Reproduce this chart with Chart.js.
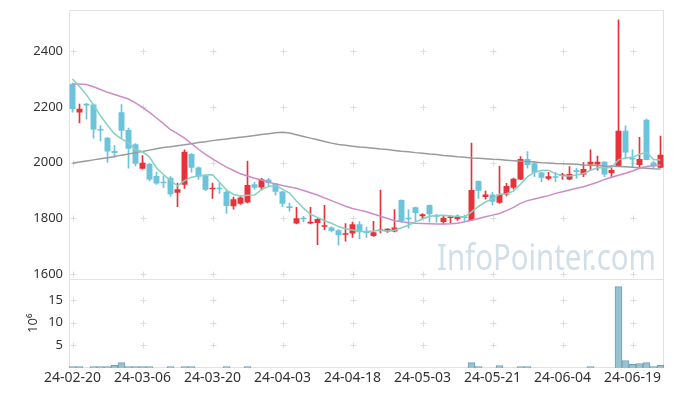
<!DOCTYPE html>
<html>
<head>
<meta charset="utf-8">
<script src="https://cdn.jsdelivr.net/npm/chart.js@4.4.1/dist/chart.umd.min.js"></script>
<style>
  html, body { margin: 0; padding: 0; background: #fff; }
</style>
</head>
<body>
<canvas id="stockChart" width="673" height="396"></canvas>
<script>
const dates = [
  '24-02-20','24-02-21','24-02-22','24-02-23','24-02-26','24-02-27','24-02-28','24-02-29','24-03-04','24-03-05',
  '24-03-06','24-03-07','24-03-08','24-03-11','24-03-12','24-03-13','24-03-14','24-03-15','24-03-18','24-03-19',
  '24-03-20','24-03-21','24-03-22','24-03-25','24-03-26','24-03-27','24-03-28','24-03-29','24-04-01','24-04-02',
  '24-04-03','24-04-04','24-04-05','24-04-08','24-04-09','24-04-11','24-04-12','24-04-15','24-04-16','24-04-17',
  '24-04-18','24-04-19','24-04-22','24-04-23','24-04-24','24-04-25','24-04-26','24-04-29','24-04-30','24-05-02',
  '24-05-03','24-05-07','24-05-08','24-05-09','24-05-10','24-05-13','24-05-14','24-05-16','24-05-17','24-05-20',
  '24-05-21','24-05-22','24-05-23','24-05-24','24-05-27','24-05-28','24-05-29','24-05-30','24-05-31','24-06-03',
  '24-06-04','24-06-05','24-06-07','24-06-10','24-06-11','24-06-12','24-06-13','24-06-14','24-06-17','24-06-18',
  '24-06-19','24-06-20','24-06-21','24-06-24','24-06-25'
];

const openP = [
  2282,2180,2211,2208,2121,2089,2042,2181,2117,2066,
  1978,1995,1952,1932,1946,1892,1921,2031,1983,1953,
  1905,1910,1896,1844,1853,1857,1923,1911,1940,1925,
  1897,1844,1782,1801,1782,1784,1770,1768,1758,1742,
  1746,1779,1753,1737,1755,1753,1753,1866,1801,1840,
  1808,1848,1812,1787,1802,1798,1807,1794,1934,1877,
  1886,1856,1886,1910,1940,2013,1998,1965,1942,1950,
  1952,1940,1973,1958,1993,1993,2003,1962,1988,2114,
  2016,1992,2154,2001,1982
];
const highP = [
  2285,2210,2213,2210,2133,2090,2061,2208,2124,2068,
  2025,1998,1965,1952,1950,1927,2046,2033,1985,1955,
  1927,1926,1902,1877,1880,2006,1930,1944,1944,1926,
  1898,1855,1840,1808,1840,1800,1847,1770,1760,1782,
  1787,1789,1768,1790,1902,1763,1832,1867,1832,1841,
  1818,1849,1815,1810,1810,1812,1812,2070,1935,1898,
  1894,1987,1926,1945,2022,2040,2004,1966,1965,1965,
  1962,1986,1980,2000,2046,2024,2004,1990,2512,2132,
  2046,2091,2156,2004,2095
];
const lowP = [
  2181,2142,2156,2088,2078,2001,2019,2088,1980,1988,
  1977,1935,1922,1910,1880,1842,1908,1966,1940,1900,
  1872,1890,1818,1833,1850,1856,1904,1902,1916,1884,
  1842,1826,1781,1788,1781,1706,1760,1752,1704,1719,
  1732,1727,1732,1736,1748,1750,1752,1787,1765,1789,
  1800,1787,1787,1780,1785,1793,1790,1793,1872,1869,
  1848,1854,1881,1905,1939,1980,1950,1932,1938,1932,
  1940,1938,1944,1950,1973,1973,1950,1950,1986,2014,
  1986,1986,2010,1982,1981
];
const closeP = [
  2192,2193,2205,2119,2115,2040,2035,2114,2050,1996,
  2000,1940,1925,1926,1887,1905,2039,1982,1950,1903,
  1909,1905,1845,1869,1875,1920,1910,1941,1927,1896,
  1853,1838,1801,1797,1788,1798,1776,1755,1740,1747,
  1779,1751,1748,1751,1760,1763,1768,1791,1797,1820,
  1815,1815,1806,1803,1807,1807,1802,1902,1899,1886,
  1860,1886,1916,1942,2013,1992,1965,1946,1951,1946,
  1958,1959,1967,1977,2003,2003,1958,1974,2114,2036,
  2011,2013,2010,1986,2028
];

// moving averages
const ma5 = [
  2300,2273,2243,2207,2168,2134,2103,2085,2071,2047,
  2039,2020,1982,1957,1936,1917,1936,1948,1953,1956,
  1957,1930,1902,1886,1881,1883,1884,1903,1915,1919,
  1905,1891,1863,1837,1815,1804,1792,1783,1771,1763,
  1759,1754,1753,1755,1758,1755,1758,1767,1776,1788,
  1798,1808,1811,1812,1809,1808,1805,1824,1843,1859,
  1870,1887,1889,1898,1923,1950,1966,1972,1973,1960,
  1953,1952,1956,1961,1973,1982,1982,1983,2010,2017,
  2019,2030,2037,2011,2010
];
const ma20 = [
  2282,2282,2280,2272,2262,2252,2244,2236,2228,2214,
  2198,2180,2160,2140,2118,2104,2088,2068,2048,2030,
  2014,1998,1984,1972,1960,1952,1944,1938,1930,1924,
  1918,1913,1908,1900,1892,1884,1874,1864,1854,1844,
  1836,1830,1824,1816,1808,1800,1792,1788,1785,1783,
  1782,1781,1780,1780,1781,1783,1788,1794,1800,1806,
  1812,1818,1828,1840,1854,1864,1870,1876,1882,1890,
  1896,1902,1908,1914,1922,1930,1940,1948,1955,1962,
  1970,1980,1986,1990,1992
];
const ma120 = [
  1998,2002,2006,2010,2014,2018,2022,2027,2031,2036,
  2040,2045,2050,2054,2057,2061,2064,2068,2072,2075,
  2079,2082,2085,2088,2091,2094,2097,2101,2104,2107,
  2109,2106,2100,2094,2088,2082,2076,2070,2065,2062,
  2059,2056,2054,2052,2049,2047,2044,2041,2039,2036,
  2034,2031,2029,2026,2024,2021,2019,2017,2016,2014,
  2012,2011,2009,2007,2005,2004,2002,2000,1999,1997,
  1996,1995,1994,1992,1991,1990,1988,1987,1986,1985,
  1984,1982,1980,1978,1977
];

// volume in millions (null = no visible bar)
const volume = [
  0.3,0.3,null,0.3,0.3,0.3,0.6,1.2,0.3,0.3,
  0.3,0.3,null,null,0.3,null,0.3,0.3,null,null,
  null,null,0.3,null,null,0.3,null,null,null,null,
  null,null,null,null,null,null,null,null,null,null,
  null,null,null,null,null,null,null,null,null,null,
  null,null,null,null,null,null,null,1.2,0.3,null,
  null,0.55,null,null,0.3,0.3,null,null,null,null,
  null,null,null,null,0.3,null,null,null,17.9,1.65,
  0.8,1.0,1.2,0.3,0.6
];

const priceTicks = [1600, 1800, 2000, 2200, 2400];
const volumeTicks = [5, 10, 15];

const RED = '#e8323a';
const BLUE = '#6cc4dc';
const candleColors = closeP.map((c, i) => c > openP[i] ? RED : BLUE);
const FONT = "'Noto Sans', sans-serif";

const decor = {
  id: 'decor',
  beforeDatasetsDraw(chart) {
    const { ctx, chartArea: a, scales } = chart;
    const x = scales.x, yP = scales.y, yV = scales.y2;
    ctx.save();

    // small crosses where grid lines would meet
    ctx.strokeStyle = '#dcdcdc';
    ctx.lineWidth = 1;
    const xs = [];
    for (let i = 0; i < dates.length; i += 10) xs.push(Math.round(x.getPixelForValue(i)) + 0.5);
    const ys = priceTicks.map(v => yP.getPixelForValue(v))
      .concat(volumeTicks.map(v => yV.getPixelForValue(v)))
      .map(v => Math.round(v) + 0.5);
    xs.forEach(px => ys.forEach(py => {
      ctx.beginPath();
      ctx.moveTo(px - 3, py); ctx.lineTo(px + 3, py);
      ctx.moveTo(px, py - 3); ctx.lineTo(px, py + 3);
      ctx.stroke();
    }));

    // panel borders
    ctx.strokeStyle = '#e2e2e2';
    ctx.strokeRect(Math.round(a.left) + 0.5, Math.round(a.top) + 0.5,
      Math.round(a.width) - 1, Math.round(a.height) - 1);
    ctx.beginPath();
    ctx.moveTo(a.left, Math.round(yP.bottom) + 0.5);
    ctx.lineTo(a.right, Math.round(yP.bottom) + 0.5);
    ctx.stroke();

    // watermark
    ctx.fillStyle = 'rgba(180,204,220,0.62)';
    ctx.font = '37px ' + FONT;
    ctx.textBaseline = 'alphabetic';
    const wm = 'InfoPointer.com';
    const w = ctx.measureText(wm).width;
    ctx.translate(437, 270);
    ctx.scale(219 / w, 1);
    ctx.fillText(wm, 0, 0);
    ctx.restore();

    // volume unit label
    ctx.save();
    ctx.fillStyle = '#333';
    ctx.font = '13px ' + FONT;
    ctx.translate(33, (yV.top + yV.bottom) / 2);
    ctx.rotate(-Math.PI / 2);
    ctx.textAlign = 'center';
    ctx.textBaseline = 'middle';
    ctx.fillText('10⁶', 0, 0);
    ctx.restore();
  }
};

const lineDs = (label, data, color) => ({
  type: 'line', label, data, yAxisID: 'y',
  borderColor: color, borderWidth: 1.5, pointRadius: 0, tension: 0, order: 0
});

const plainTicks = { padding: 6, color: '#333', font: { family: FONT, size: 13 }, callback: v => String(v) };
const fitY = s => { s.width = 69; s.paddingTop = 0; s.paddingBottom = 0; };

new Chart(document.getElementById('stockChart'), {
  data: {
    labels: dates,
    datasets: [
      lineDs('MA5', ma5, '#86cfc2'),
      lineDs('MA20', ma20, '#cc8cc8'),
      lineDs('MA120', ma120, '#9a9a9a'),
      {
        type: 'bar', label: 'body', yAxisID: 'y',
        data: dates.map((d, i) => [openP[i], closeP[i]]),
        backgroundColor: candleColors,
        barPercentage: 0.85, categoryPercentage: 1,
        grouped: false, minBarLength: 1.5, order: 1
      },
      {
        type: 'bar', label: 'wick', yAxisID: 'y',
        data: dates.map((d, i) => [lowP[i], highP[i]]),
        backgroundColor: candleColors,
        barThickness: 1, grouped: false, order: 2
      },
      {
        type: 'bar', label: 'volume', yAxisID: 'y2',
        data: volume,
        backgroundColor: '#97c2d2', borderColor: '#6e9fb5', borderWidth: 1,
        barPercentage: 1, categoryPercentage: 1, grouped: false, order: 3
      }
    ]
  },
  options: {
    responsive: false,
    animation: false,
    layout: { padding: { top: 10, right: 9, left: 0, bottom: 0 } },
    plugins: { legend: { display: false }, tooltip: { enabled: false } },
    scales: {
      x: {
        type: 'category', offset: true,
        grid: { display: false, drawTicks: false },
        border: { display: false },
        afterFit: s => { s.height = 28; },
        ticks: {
          autoSkip: false, maxRotation: 0, padding: 2,
          color: '#333', font: { family: FONT, size: 14 },
          callback: (v, i) => i % 10 === 0 ? dates[i] : null
        }
      },
      // volume axis first so the price panel is stacked above it
      y2: {
        type: 'linear', position: 'left', stack: 'panels', stackWeight: 1,
        min: 0, max: 19.7,
        afterBuildTicks: s => { s.ticks = volumeTicks.map(v => ({ value: v })); },
        afterFit: fitY,
        grid: { display: false, drawTicks: false },
        border: { display: false },
        ticks: plainTicks
      },
      y: {
        type: 'linear', position: 'left', stack: 'panels', stackWeight: 3,
        min: 1585, max: 2547,
        afterBuildTicks: s => { s.ticks = priceTicks.map(v => ({ value: v })); },
        afterFit: fitY,
        grid: { display: false, drawTicks: false },
        border: { display: false },
        ticks: plainTicks
      }
    }
  },
  plugins: [decor]
});
</script>
</body>
</html>
